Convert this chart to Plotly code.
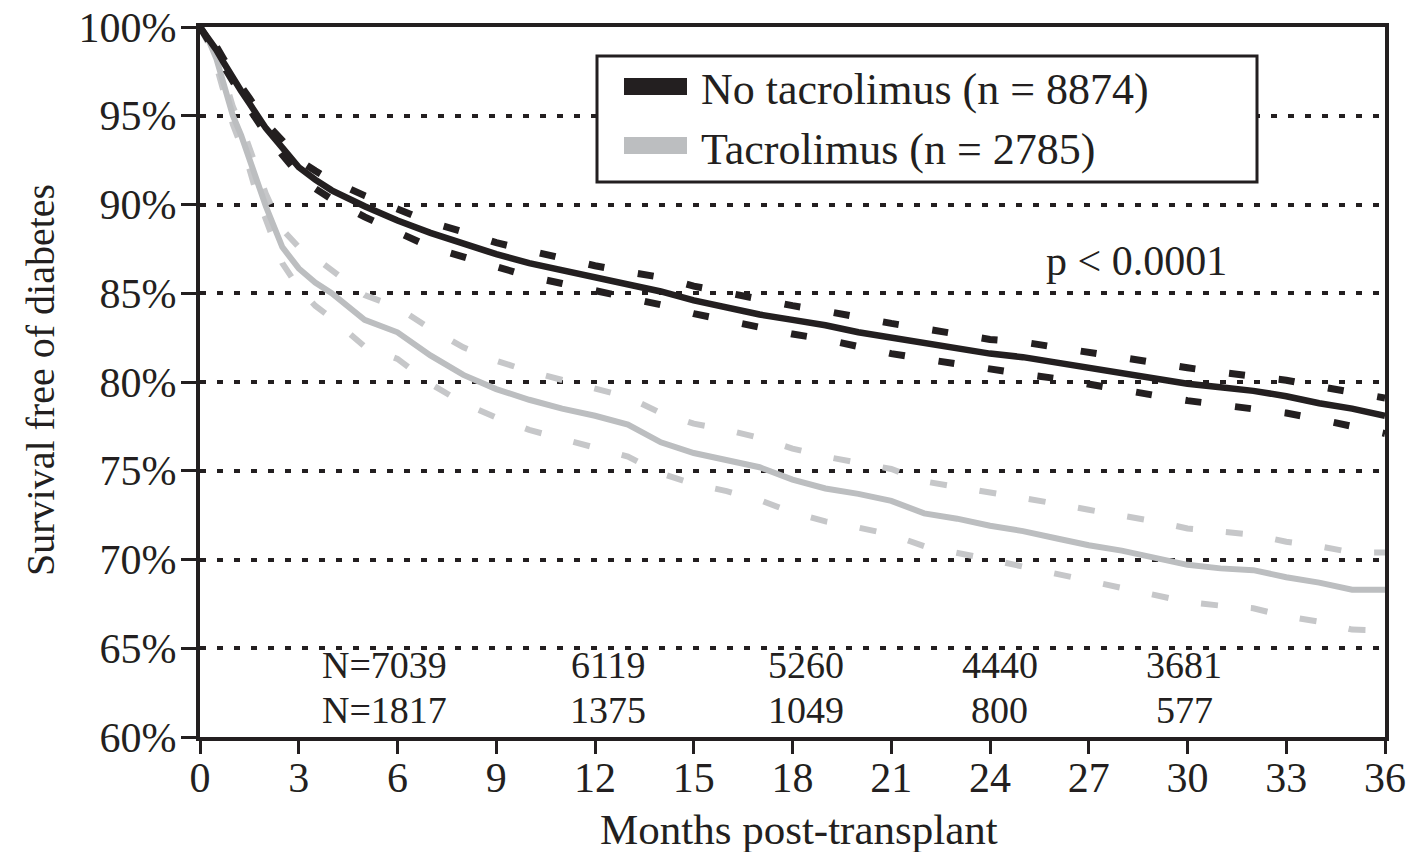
import plotly.graph_objects as go

# Follow-up time (months post-transplant)
months = [0, 0.25, 0.5, 0.75, 1, 1.25, 1.5, 1.75, 2, 2.5, 3, 3.5, 4,
          5, 6, 7, 8, 9, 10, 11, 12, 13, 14, 15, 16, 17, 18, 19, 20,
          21, 22, 23, 24, 25, 26, 27, 28, 29, 30, 31, 32, 33, 34, 35, 36]

# No tacrolimus: Kaplan-Meier estimate with confidence limits (%)
no_tac = [100, 99.4, 98.7, 97.9, 97.1, 96.4, 95.7, 95.0, 94.3, 93.2, 92.1, 91.4, 90.8,
          89.9, 89.1, 88.4, 87.8, 87.2, 86.7, 86.3, 85.9, 85.5, 85.1, 84.6, 84.2, 83.8,
          83.5, 83.2, 82.8, 82.5, 82.2, 81.9, 81.6, 81.4, 81.1, 80.8, 80.5, 80.2, 79.9,
          79.7, 79.5, 79.2, 78.8, 78.5, 78.1]
no_tac_hi = [100, 99.5, 98.9, 98.1, 97.3, 96.65, 96.0, 95.3, 94.6, 93.6, 92.5, 91.9, 91.35,
             90.5, 89.7, 89.0, 88.45, 87.85, 87.4, 86.95, 86.55, 86.2, 85.9, 85.4, 85.0,
             84.6, 84.3, 84.0, 83.6, 83.3, 83.0, 82.7, 82.4, 82.25, 81.95, 81.7, 81.4,
             81.1, 80.8, 80.55, 80.35, 80.1, 79.75, 79.45, 79.1]
no_tac_lo = [100, 99.3, 98.5, 97.7, 96.9, 96.15, 95.4, 94.7, 94.0, 92.8, 91.7, 90.9, 90.3,
             89.3, 88.4, 87.6, 87.05, 86.45, 85.95, 85.55, 85.15, 84.8, 84.35, 83.85,
             83.45, 83.0, 82.7, 82.4, 81.95, 81.6, 81.3, 81.0, 80.7, 80.45, 80.2, 79.85,
             79.6, 79.25, 78.95, 78.7, 78.5, 78.25, 77.9, 77.55, 77.1]

# Tacrolimus: Kaplan-Meier estimate with confidence limits (%)
tac = [100, 99.3, 98.2, 96.5, 95.0, 93.9, 92.6, 91.1, 89.9, 87.6, 86.4, 85.6, 85.0,
       83.5, 82.8, 81.5, 80.4, 79.6, 79.0, 78.5, 78.1, 77.6, 76.6, 76.0, 75.6, 75.2,
       74.5, 74.0, 73.7, 73.3, 72.6, 72.3, 71.9, 71.6, 71.2, 70.8, 70.5, 70.1, 69.7,
       69.5, 69.4, 69.0, 68.7, 68.3, 68.3]
tac_hi = [100, 99.5, 98.6, 97.0, 95.5, 94.5, 93.2, 91.8, 90.6, 88.6, 87.6, 87.0, 86.3,
          84.9, 84.2, 83.0, 81.95, 81.2, 80.6, 80.1, 79.6, 79.15, 78.25, 77.65, 77.3,
          76.85, 76.25, 75.8, 75.45, 75.1, 74.4, 74.1, 73.8, 73.5, 73.15, 72.8, 72.5,
          72.15, 71.75, 71.6, 71.4, 71.0, 70.75, 70.4, 70.4]
tac_lo = [100, 99.1, 97.8, 96.0, 94.5, 93.3, 92.0, 90.4, 89.2, 86.7, 85.3, 84.3, 83.6,
          82.0, 81.3, 79.9, 78.8, 78.0, 77.3, 76.8, 76.3, 75.8, 74.85, 74.25, 73.85,
          73.35, 72.65, 72.15, 71.8, 71.4, 70.75, 70.4, 70.0, 69.6, 69.2, 68.8, 68.45,
          68.05, 67.6, 67.4, 67.25, 66.8, 66.5, 66.05, 66.0]

# Numbers at risk
at_risk_no_tac = ["N=7039", "6119", "5260", "4440", "3681"]
at_risk_tac = ["N=1817", "1375", "1049", "800", "577"]
at_risk_x = [5.6, 12.4, 18.4, 24.3, 29.9]

y_ticks = [60, 65, 70, 75, 80, 85, 90, 95, 100]
x_ticks = list(range(0, 37, 3))

series_names = ["No tacrolimus (n = 8874)", "Tacrolimus (n = 2785)"]

INK = "#231f20"
GREY = "#bcbec0"
GREY_CI = "#c6c7c9"
SERIF = "Liberation Serif, Times New Roman, serif"

fig = go.Figure()

# confidence limits (dashed), tacrolimus group first so black draws on top
fig.add_trace(go.Scatter(x=months, y=tac_hi, mode="lines",
                         line=dict(color=GREY_CI, width=6, dash="0px,25px,17px,8px"),
                         hoverinfo="skip", showlegend=False))
fig.add_trace(go.Scatter(x=months, y=tac_lo, mode="lines",
                         line=dict(color=GREY_CI, width=6, dash="17px,33px"),
                         hoverinfo="skip", showlegend=False))
fig.add_trace(go.Scatter(x=months, y=tac, mode="lines", name=series_names[1],
                         line=dict(color=GREY, width=6), showlegend=False))
fig.add_trace(go.Scatter(x=months, y=no_tac_hi, mode="lines",
                         line=dict(color=INK, width=7, dash="0px,26px,16px,8px"),
                         hoverinfo="skip", showlegend=False))
fig.add_trace(go.Scatter(x=months, y=no_tac_lo, mode="lines",
                         line=dict(color=INK, width=7, dash="16px,34px"),
                         hoverinfo="skip", showlegend=False))
fig.add_trace(go.Scatter(x=months, y=no_tac, mode="lines", name=series_names[0],
                         line=dict(color=INK, width=6.5), showlegend=False))


def px_x(p):
    return (p - 200) / 1185


def px_y(p):
    return (737 - p) / 710


annotations = []
for xv, top, bot in zip(at_risk_x, at_risk_no_tac, at_risk_tac):
    annotations.append(dict(x=xv, y=px_y(665), xref="x", yref="paper", text=top,
                            xanchor="center", yanchor="middle",
                            showarrow=False, font=dict(family=SERIF, size=38, color=INK)))
    annotations.append(dict(x=xv, y=px_y(710), xref="x", yref="paper", text=bot,
                            xanchor="center", yanchor="middle",
                            showarrow=False, font=dict(family=SERIF, size=38, color=INK)))

annotations.append(dict(x=28.45, y=86.8, xref="x", yref="y", text="p < 0.0001",
                        showarrow=False, font=dict(family=SERIF, size=42, color=INK)))

# axis titles
annotations.append(dict(x=px_x(799), y=px_y(829), xref="paper", yref="paper",
                        xanchor="center", yanchor="middle",
                        text="Months post-transplant", showarrow=False,
                        font=dict(family=SERIF, size=43, color=INK)))
annotations.append(dict(x=px_x(40), y=px_y(380), xref="paper", yref="paper",
                        xanchor="center", yanchor="middle",
                        text="Survival free of diabetes", textangle=-90, showarrow=False,
                        font=dict(family=SERIF, size=40, color=INK)))

# legend box with colour swatches
shapes = [
    dict(type="rect", xref="paper", yref="paper",
         x0=px_x(597), x1=px_x(1257), y0=px_y(182), y1=px_y(56),
         line=dict(color=INK, width=3), fillcolor="white", layer="above"),
    dict(type="rect", xref="paper", yref="paper",
         x0=px_x(624), x1=px_x(687), y0=px_y(95), y1=px_y(78),
         line=dict(width=0), fillcolor=INK, layer="above"),
    dict(type="rect", xref="paper", yref="paper",
         x0=px_x(624), x1=px_x(687), y0=px_y(154), y1=px_y(137),
         line=dict(width=0), fillcolor=GREY, layer="above"),
]
for name, ypix in zip(series_names, [89, 149]):
    annotations.append(dict(x=px_x(699), y=px_y(ypix), xref="paper", yref="paper",
                            xanchor="left", yanchor="middle", text=name, showarrow=False,
                            font=dict(family=SERIF, size=44, color=INK)))

axis_common = dict(
    showline=True, linecolor=INK, linewidth=4, mirror=True,
    ticks="outside", tickcolor=INK, tickwidth=3,
    tickfont=dict(family=SERIF, size=42, color=INK),
    zeroline=False, automargin=False,
)

fig.update_layout(
    width=1414, height=852,
    margin=dict(l=200, r=29, t=27, b=115),
    paper_bgcolor="white", plot_bgcolor="white",
    xaxis=dict(range=[0, 36], tickvals=x_ticks, ticklen=13, showgrid=False,
               ticklabelstandoff=-12, **axis_common),
    yaxis=dict(range=[60, 100], tickvals=y_ticks, ticktext=[f"{v}%" for v in y_ticks],
               ticklen=15, showgrid=True, gridcolor=INK, gridwidth=4,
               griddash="6px,11px", ticklabelstandoff=-4, **axis_common),
    annotations=annotations,
    shapes=shapes,
    showlegend=False,
)

fig.write_html("out.html")
